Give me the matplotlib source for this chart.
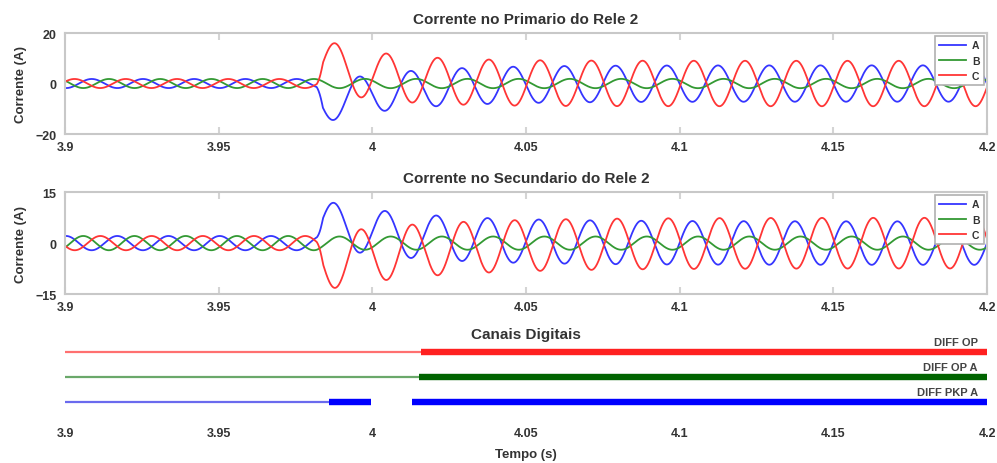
import numpy as np
import matplotlib as mpl
import matplotlib.pyplot as plt

mpl.rcParams["font.family"] = "Liberation Sans"
mpl.rcParams["font.weight"] = "bold"
mpl.rcParams["axes.titleweight"] = "bold"
mpl.rcParams["axes.labelweight"] = "bold"

TEXT_COLOR = "#333333"
FRAME_COLOR = "#c8c8c8"

FREQ_HZ = 60.0
T_START, T_END = 3.9, 4.2
T_FAULT = 3.9819
RAMP_S = 0.002
X_TICKS = [3.9, 3.95, 4.0, 4.05, 4.1, 4.15, 4.2]
X_TICK_LABELS = ["3.9", "3.95", "4", "4.05", "4.1", "4.15", "4.2"]

PHASES = ["A", "B", "C"]
PHASE_COLORS = ["#3535ff", "#339933", "#ff3535"]

# --- Primary currents (top panel) -------------------------------------------
PRI_PRE_AMP = [1.8, 1.8, 1.8]
PRI_PRE_PEAK_T = [3.9087, 3.9143, 3.9031]
PRI_POST_AMP = [7.2, 1.85, 9.0]
PRI_POST_AMP_EXTRA = [0.6, 0.0, 1.0]
PRI_POST_PEAK_T = [4.0458, 4.0476, 4.0546]
PRI_DC0 = [-8.5, 0.0, 8.5]
PRI_DC_TAU = [0.024, 0.02, 0.019]

# --- Secondary currents (middle panel) ---------------------------------------
SEC_PRE_AMP = [2.1, 2.1, 2.1]
SEC_PRE_PEAK_T = [3.9170, 3.9226, 3.9115]
SEC_POST_AMP = [6.4, 1.95, 7.45]
SEC_POST_AMP_EXTRA = [0.4, 0.0, 0.8]
SEC_POST_PEAK_T = [4.0375, 4.0393, 4.0463]
SEC_DC0 = [6.2, 0.0, -6.1]
SEC_DC_TAU = [0.029, 0.02, 0.032]

# --- Digital channels (bottom panel) -----------------------------------------
DIG_LABELS = ["DIFF OP", "DIFF OP A", "DIFF PKP A"]
DIG_LEVELS = [3, 2, 1]
DIG_COLORS = ["#ff2020", "#006400", "#0000ff"]
DIG_OFF_COLORS = ["#ff7070", "#6aa86a", "#6a6aee"]
DIG_OFF = [[(3.9, 4.0157)], [(3.9, 4.0152)], [(3.9, 3.986)]]
DIG_ON = [[(4.0157, 4.2)], [(4.0152, 4.2)], [(3.986, 3.9995), (4.0128, 4.2)]]


def _phase_current(t, pre_amp, pre_pk, post_amp, post_extra, post_pk, dc0, tau):
    w = 2 * np.pi * FREQ_HZ
    pre = pre_amp * np.cos(w * (t - pre_pk))
    dt = np.clip(t - T_FAULT, 0, None)
    decay = np.exp(-dt / tau)
    post = (post_amp + post_extra * decay) * np.cos(w * (t - post_pk)) + dc0 * decay
    ramp = np.clip((t - T_FAULT) / RAMP_S, 0, 1)
    return pre * (1 - ramp) + post * ramp


def _style_axes(ax):
    for sp in ax.spines.values():
        sp.set_color(FRAME_COLOR)
        sp.set_linewidth(1.5)
    ax.set_xlim(T_START, T_END)
    ax.set_xticks(X_TICKS)
    ax.set_xticklabels(X_TICK_LABELS)
    ax.tick_params(axis="x", direction="in", length=5, width=1.5, color="#d4d4d4",
                   top=True, labelsize=9, labelcolor=TEXT_COLOR, pad=5)
    ax.tick_params(axis="y", length=0, labelsize=9, labelcolor=TEXT_COLOR, pad=6)


def _wave_panel(ax, title, ylim, yticks, params):
    t = np.linspace(T_START, T_END, 4001)
    for i, name in enumerate(PHASES):
        y = _phase_current(t, *(p[i] for p in params))
        ax.plot(t, y, color=PHASE_COLORS[i], lw=1.3, label=name)
    ax.set_ylim(*ylim)
    ax.set_yticks(yticks)
    ax.set_yticklabels([f"{v:g}".replace("-", "\u2212") for v in yticks])
    ax.set_ylabel("Corrente (A)", fontsize=9.5, color=TEXT_COLOR, labelpad=6)
    ax.set_title(title, fontsize=11, color=TEXT_COLOR, pad=7)
    _style_axes(ax)
    leg = ax.legend(loc="upper right", fontsize=7.5, handlelength=2.6, handletextpad=0.6,
                    labelspacing=0.5, borderpad=0.4, borderaxespad=0.3,
                    fancybox=False, framealpha=1)
    leg.get_frame().set_edgecolor("#b0b0b0")
    leg.get_frame().set_linewidth(1.2)
    for txt in leg.get_texts():
        txt.set_color(TEXT_COLOR)


fig = plt.figure(figsize=(9.97, 4.64), dpi=100)
fig.patch.set_facecolor("white")

ax1 = fig.add_axes([0.0652, 0.709, 0.9248, 0.2177])
ax2 = fig.add_axes([0.0652, 0.364, 0.9248, 0.2198])
ax3 = fig.add_axes([0.0652, 0.1056, 0.9248, 0.1616])

_wave_panel(ax1, "Corrente no Primario do Rele 2", (-20, 20), [-20, 0, 20],
            [PRI_PRE_AMP, PRI_PRE_PEAK_T, PRI_POST_AMP, PRI_POST_AMP_EXTRA,
             PRI_POST_PEAK_T, PRI_DC0, PRI_DC_TAU])
_wave_panel(ax2, "Corrente no Secundario do Rele 2", (-15, 15), [-15, 0, 15],
            [SEC_PRE_AMP, SEC_PRE_PEAK_T, SEC_POST_AMP, SEC_POST_AMP_EXTRA,
             SEC_POST_PEAK_T, SEC_DC0, SEC_DC_TAU])

# digital channels: thin = off, thick = asserted
for i, lvl in enumerate(DIG_LEVELS):
    for a, b in DIG_OFF[i]:
        ax3.plot([a, b], [lvl, lvl], color=DIG_OFF_COLORS[i], lw=1.6, solid_capstyle="butt")
    for a, b in DIG_ON[i]:
        ax3.plot([a, b], [lvl, lvl], color=DIG_COLORS[i], lw=4.6, solid_capstyle="butt")
    ax3.text(4.197, lvl + 0.38, DIG_LABELS[i], ha="right", va="center",
             fontsize=8, color="#444444")
ax3.set_ylim(0.5, 3.5)
ax3.set_yticks([])
_style_axes(ax3)
for sp in ax3.spines.values():
    sp.set_visible(False)
ax3.tick_params(axis="x", length=0, pad=9)
ax3.set_title("Canais Digitais", fontsize=11, color=TEXT_COLOR, pad=0.5)
ax3.set_xlabel("Tempo (s)", fontsize=9.5, color=TEXT_COLOR, labelpad=6.5)

fig.savefig("out.png", dpi=100, facecolor="white")
